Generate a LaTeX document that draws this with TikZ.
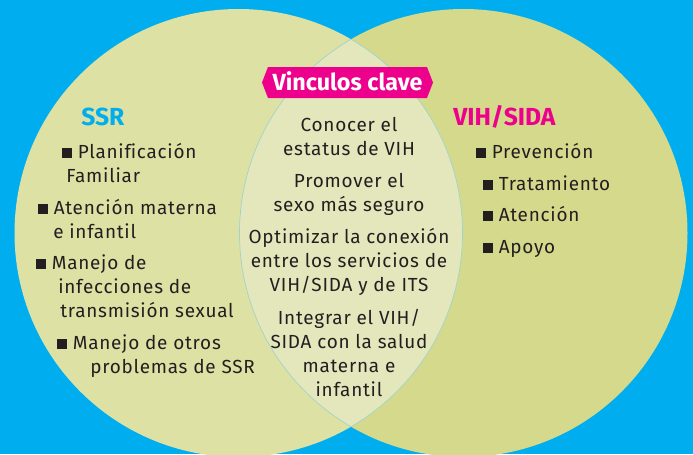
\documentclass[tikz,border=0pt]{standalone}
\usepackage{fontspec}
\setmainfont{Fira Sans}[Ligatures=NoCommon]
\definecolor{bgblue}{HTML}{00AEEF}
\definecolor{leftc}{HTML}{DDE1A3}
\definecolor{rightc}{HTML}{D4D98C}
\definecolor{lensc}{HTML}{E4E7BC}
\definecolor{lensline}{HTML}{9FD3D0}
\definecolor{mag}{HTML}{EC008C}
\definecolor{txt}{HTML}{231F20}
\newcommand\bul{\rule{0.52em}{0.52em}\hspace{0.3em}}
\tikzset{
  t/.style={font=\fontsize{14.2}{18}\selectfont\addfontfeatures{LetterSpace=4}, text=txt, inner sep=0pt, anchor=base west},
  tc/.style={t, anchor=base},
  head/.style={font=\fontsize{18.5}{20}\selectfont\bfseries, inner sep=0pt, anchor=base west}
}
\begin{document}
\begin{tikzpicture}[x=0.75pt,y=-0.75pt]
\useasboundingbox (0,0) rectangle (693,454);
\fill[bgblue] (0,0) rectangle (693,454);
\begin{scope}
\clip (0,0) rectangle (693,454);
\fill[leftc] (238.5,233) circle[radius=168pt];
\fill[rightc] (463.5,233) circle[radius=168pt];
\begin{scope}
\clip (238.5,233) circle[radius=168pt];
\fill[lensc] (463.5,233) circle[radius=168pt];
\draw[lensline, line width=0.5pt] (463.5,233) circle[radius=168pt];
\end{scope}
\begin{scope}
\clip (463.5,233) circle[radius=168pt];
\draw[lensline, line width=0.5pt] (238.5,233) circle[radius=168pt];
\end{scope}
\end{scope}
% label
\fill[mag] (262,82.5) -- (268,67) -- (427,67) -- (433,82.5) -- (427,98) -- (268,98) -- cycle;
\node[font=\fontsize{17.5}{20}\selectfont\bfseries, text=white, inner sep=0pt, anchor=base] (vc) at (347.5,90.5) {Vinculos clave};
% headings
\node[head, text=bgblue] (ssr) at (81,125) {SSR};
\node[head, text=mag] (vih) at (453,125) {VIH/SIDA};
% left list
\node[t] (l1a) at (62,158) {\bul Planif\kern0pt icación};
\node[t] (l1b) at (66,182) {Familiar};
\node[t] (l2a) at (38,214) {\bul Atención materna};
\node[t] (l2b) at (53,238) {e infantil};
\node[t] (l3a) at (36,269) {\bul Manejo de};
\node[t] (l3b) at (58,293) {infecciones de};
\node[t] (l3c) at (60,317) {transmisión sexual};
\node[t] (l4a) at (57,349) {\bul Manejo de otros};
\node[t] (l4b) at (90,373) {problemas de SSR};
% right list
\node[t] (r1) at (476,158) {\bul Prevención};
\node[t] (r2) at (483,190) {\bul Tratamiento};
\node[t] (r3) at (483,221) {\bul Atención};
\node[t] (r4) at (483,253) {\bul Apoyo};
% center
\node[tc] (c1a) at (349,131) {Conocer el};
\node[tc] (c1b) at (349,155) {estatus de VIH};
\node[tc] (c2a) at (349,187) {Promover el};
\node[tc] (c2b) at (349,211) {sexo más seguro};
\node[tc] (c3a) at (349,243) {Optimizar la conexión};
\node[tc] (c3b) at (349,267) {entre los servicios de};
\node[tc] (c3c) at (349,291) {VIH/SIDA y de ITS};
\node[tc] (c4a) at (349,324) {Integrar el VIH/};
\node[tc] (c4b) at (349,348) {SIDA con la salud};
\node[tc] (c4c) at (349,372) {materna e};
\node[tc] (c4d) at (349,396) {infantil};
\end{tikzpicture}
\end{document}
